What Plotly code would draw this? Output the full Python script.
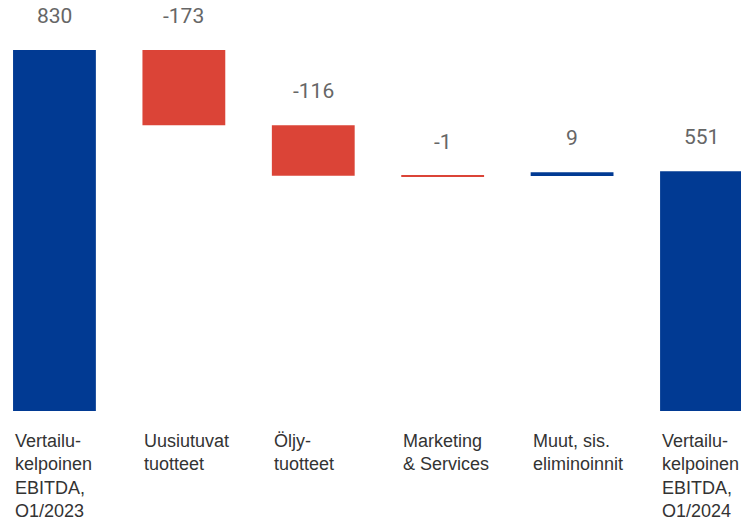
import plotly.graph_objects as go

# Data
categories = [
    "Vertailu-<br>kelpoinen<br>EBITDA,<br>Q1/2023",
    "Uusiutuvat<br>tuotteet",
    "Öljy-<br>tuotteet",
    "Marketing<br>& Services",
    "Muut, sis.<br>eliminoinnit",
    "Vertailu-<br>kelpoinen<br>EBITDA,<br>Q1/2024",
]
values = [830, -173, -116, -1, 9, 551]
measures = ["absolute", "relative", "relative", "relative", "relative", "absolute"]

BLUE = "#013A93"
RED = "#DB4437"

x = list(range(len(categories)))

fig = go.Figure(go.Waterfall(
    x=x,
    y=values,
    measure=measures,
    width=0.64,
    increasing=dict(marker=dict(color=BLUE)),
    decreasing=dict(marker=dict(color=RED)),
    totals=dict(marker=dict(color=BLUE)),
    connector=dict(visible=False),
    textposition="none",
    hoverinfo="skip",
))

# value labels above the top of each bar
running = 0
for i, (v, m) in enumerate(zip(values, measures)):
    if m == "absolute":
        start, end = 0, v
        running = v
    else:
        start, end = running, running + v
        running = end
    top = max(start, end)
    fig.add_annotation(
        x=i, y=top, xref="x", yref="y",
        text=f"{v}", showarrow=False,
        yanchor="middle", yshift=34,
        font=dict(family="Roboto", size=21, color="#666666"),
    )

# category labels, left aligned under the bars
for i, c in enumerate(categories):
    fig.add_annotation(
        x=i - 0.32, y=1 - 421 / 517, xref="x", yref="paper",
        text=c, showarrow=False,
        xanchor="left", yanchor="top", align="left",
        font=dict(family="Liberation Sans, Arial", size=18, color="#333333"),
    )

fig.update_layout(
    width=749,
    height=517,
    margin=dict(l=0, r=0, t=0, b=0),
    plot_bgcolor="white",
    paper_bgcolor="white",
    showlegend=False,
    xaxis=dict(range=[-0.359, 5.429], visible=False, fixedrange=True),
    yaxis=dict(range=[-262, 926.4], visible=False, fixedrange=True),
)

fig.write_html("out.html")
